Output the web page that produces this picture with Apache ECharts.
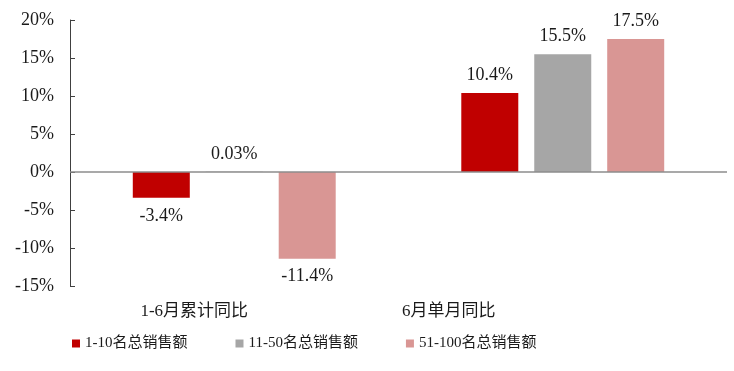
<!DOCTYPE html>
<html>
<head>
<meta charset="utf-8">
<script src="https://cdn.jsdelivr.net/npm/echarts@6/dist/echarts.min.js"></script>
<style>
html,body{margin:0;padding:0;background:#fff;}
#chart{width:734px;height:371px;}
</style>
</head>
<body>
<div id="chart"></div>
<script>
var categories = ['1-6月累计同比', '6月单月同比'];
var seriesNames = ['1-10名总销售额', '11-50名总销售额', '51-100名总销售额'];
var top10 = [-3.4, 10.4];
var top11to50 = [0.03, 15.5];
var top51to100 = [-11.4, 17.5];
var yTicks = [-15, -10, -5, 0, 5, 10, 15, 20];

var colors = ['#C00000', '#A6A6A6', '#D99694'];
var serif = '"Liberation Serif", "Times New Roman", "Noto Sans CJK SC", serif';
var values = [top10, top11to50, top51to100];

var chart = echarts.init(document.getElementById('chart'));

function mkData(arr) {
  return arr.map(function (v) {
    return { value: v, label: { position: v < 0 ? 'bottom' : 'top' } };
  });
}

var series = values.map(function (arr, i) {
  var s = {
    name: seriesNames[i],
    type: 'bar',
    data: mkData(arr),
    barWidth: 57,
    barGap: '28%',
    itemStyle: { color: colors[i] },
    label: {
      show: true,
      distance: 9,
      fontFamily: serif,
      fontSize: 18,
      color: '#1a1a1a',
      formatter: function (p) { return p.value + '%'; }
    }
  };
  if (i === 0) {
    s.markLine = {
      silent: true,
      symbol: 'none',
      label: { show: false },
      lineStyle: { color: '#8c8c8c', type: 'solid', width: 1.5 },
      data: [{ yAxis: 0 }]
    };
  }
  return s;
});

chart.setOption({
  animation: false,
  grid: { left: 70, right: 7, top: 20, bottom: 85 },
  legend: {
    data: seriesNames,
    left: 72,
    top: 336,
    padding: 0,
    icon: 'rect',
    itemWidth: 8,
    itemHeight: 8,
    itemGap: 48,
    textStyle: { fontFamily: serif, fontSize: 15, color: '#1a1a1a' }
  },
  xAxis: {
    type: 'category',
    data: categories,
    axisLine: { show: false, onZero: false },
    axisTick: { show: false },
    axisLabel: {
      margin: 17,
      fontFamily: serif,
      fontSize: 17,
      color: '#1a1a1a',
      formatter: function (v, idx) { return idx === 0 ? '{a|' + v + '}' : '{b|' + v + '}'; },
      rich: {
        a: { fontFamily: serif, fontSize: 17, color: '#1a1a1a', padding: [0, 80, 0, 0] },
        b: { fontFamily: serif, fontSize: 17, color: '#1a1a1a', padding: [0, 228, 0, 0] }
      }
    }
  },
  yAxis: {
    type: 'value',
    min: yTicks[0],
    max: yTicks[yTicks.length - 1],
    interval: 5,
    splitLine: { show: false },
    axisLine: { show: true, lineStyle: { color: '#404040', width: 1 } },
    axisTick: { show: true, inside: true, length: 5, lineStyle: { color: '#404040' } },
    axisLabel: {
      margin: 16,
      fontFamily: serif,
      fontSize: 18,
      color: '#1a1a1a',
      formatter: '{value}%'
    }
  },
  series: series
});
</script>
</body>
</html>
